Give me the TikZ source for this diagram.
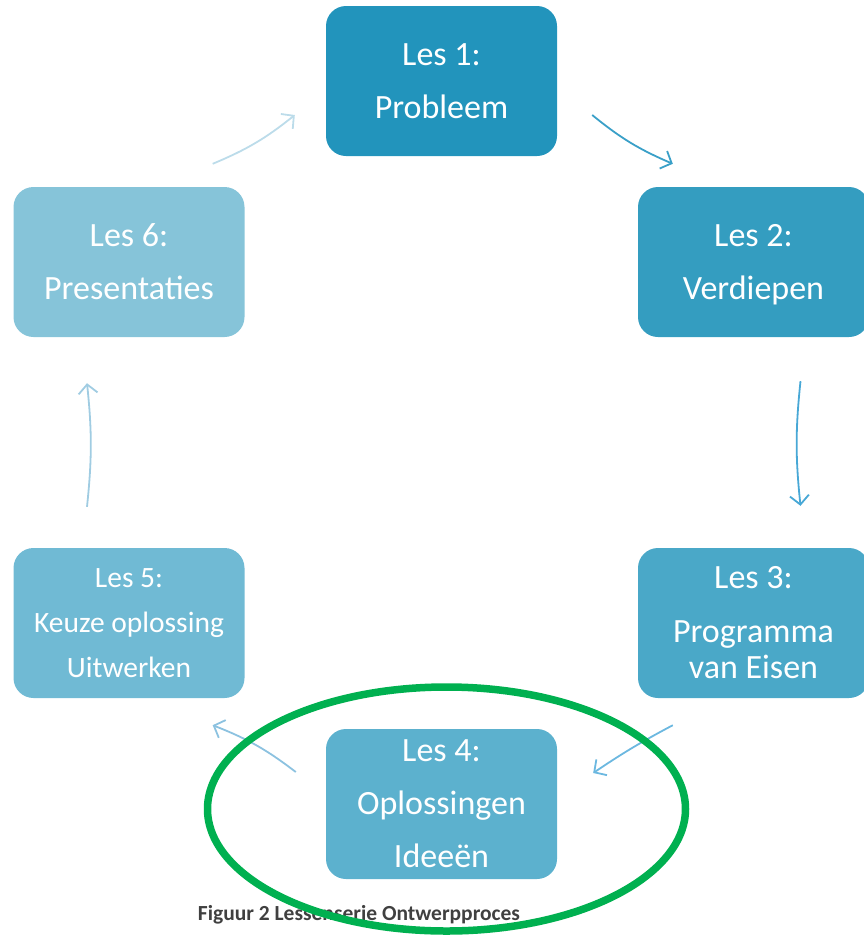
\documentclass[tikz,border=0pt]{standalone}
\usepackage{fontspec}
\setmainfont{Carlito}
\usetikzlibrary{arrows.meta}

\definecolor{lesA}{HTML}{2294BC}
\definecolor{lesB}{HTML}{349DC0}
\definecolor{lesC}{HTML}{4AA8C8}
\definecolor{lesD}{HTML}{5CB1CE}
\definecolor{lesE}{HTML}{70BAD4}
\definecolor{lesF}{HTML}{86C4D9}
\definecolor{pijlA}{HTML}{3AA0C8}
\definecolor{pijlB}{HTML}{48A8D6}
\definecolor{pijlC}{HTML}{6CB8E0}
\definecolor{pijlD}{HTML}{8CC2E0}
\definecolor{pijlE}{HTML}{A0CCE2}
\definecolor{pijlF}{HTML}{BCDCEA}
\definecolor{ovaal}{HTML}{00B050}
\definecolor{bijschrift}{HTML}{404040}

\begin{document}
\begin{tikzpicture}[x=1pt, y=-1pt,
    les/.style={rounded corners=20pt, minimum width=231pt, minimum height=150pt,
        text=white, align=center, inner sep=0pt,
        font=\fontsize{34}{53}\selectfont},
    flow/.style={line width=1.8pt, -{Straight Barb[length=9pt, width=19pt]}, bend right=#1},
    flow/.default=8]
    \useasboundingbox (0,0) rectangle (864,935);

    % Boxes of the lesson series
    \node[les, fill=lesA] (les1) at (441.5,81)  {Les 1:\\Probleem};
    \node[les, fill=lesB] (les2) at (753.5,262) {Les 2:\\\raisebox{0pt}[\height][0pt]{Verdiepen}};
    \node[les, fill=lesC] (les3) at (753.5,623) {Les 3:\\[1pt]Programma\\[-17pt]van Eisen};
    \node[les, fill=lesD] (les4) at (441.5,804) {Les 4:\\Oplossingen\\Ideeën};
    \node[les, fill=lesE, font=\fontsize{29.5}{45}\selectfont] (les5) at (129,623) {Les 5:\\Keuze oplossing\\Uitwerken};
    \node[les, fill=lesF] (les6) at (129,262)   {Les 6:\\Presentaties};

    % Arrows between the lessons
    \draw[flow, pijlA] ([shift={(35,34)}]les1.east) to ([shift={(35,-23)}]les2.north west);
    \draw[flow=6, pijlB] ([shift={(47,44)}]les2.south) to ([shift={(47,-42)}]les3.north);
    \draw[flow=3, pijlC] ([shift={(35,27)}]les3.south west) to ([shift={(36,-31)}]les4.east);
    \draw[flow, pijlD] ([shift={(-30,-32)}]les4.west) to ([shift={(-32,27)}]les5.south east);
    \draw[flow=6, pijlE] ([shift={(-42,-41)}]les5.north) to ([shift={(-42,46)}]les6.south);
    \draw[flow, pijlF] ([shift={(-32,-23)}]les6.north east) to ([shift={(-31,34)}]les1.west);

    % Caption
    \node[text=bijschrift, font=\fontsize{21.5}{25}\bfseries] (caption) at (359,915) {Figuur 2 Lessenserie Ontwerpproces};

    % Green ellipse round Les 4
    \draw[ovaal, line width=7.5pt] (446.5,809) ellipse [x radius=239pt, y radius=122pt];
\end{tikzpicture}
\end{document}
